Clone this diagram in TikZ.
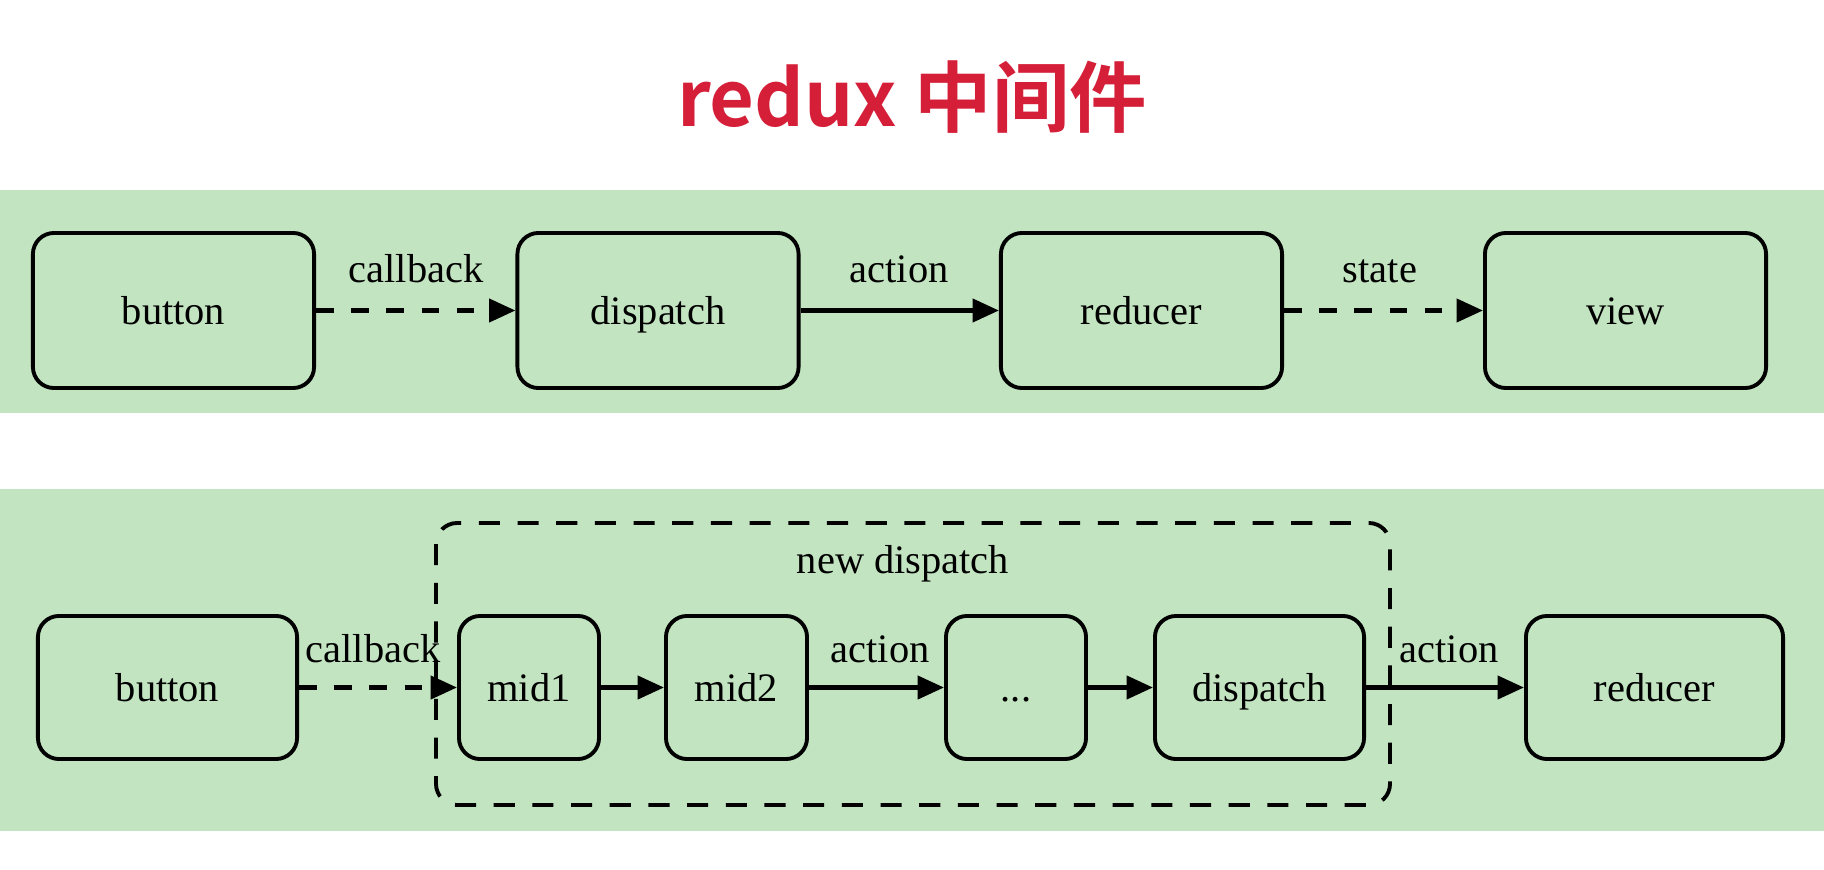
\documentclass[tikz,border=0pt]{standalone}
\usepackage{fontspec}
\setmainfont{Liberation Serif}
\newfontfamily\titlefont{Noto Sans CJK SC}[BoldFont={Noto Sans CJK SC Bold}]
\usetikzlibrary{arrows.meta}
\definecolor{bandgreen}{RGB}{194,228,192}
\definecolor{titlered}{RGB}{213,30,56}

\begin{document}
\begin{tikzpicture}[x=0.01cm,y=-0.01cm,
    blk/.style={draw,line width=1.1pt,rounded corners=6pt,
      text height=0.9em,text depth=0.12em,
      font=\fontsize{11.5}{12}\selectfont},
    lbl/.style={text height=0.9em,text depth=0.12em,
      font=\fontsize{11.5}{12}\selectfont},
    flow/.style={line width=1.3pt,-{Triangle[length=7.5pt,width=6.5pt]}},
    cb/.style={flow,dash pattern=on 5pt off 5pt}]
  \useasboundingbox[fill=white] (0,0) rectangle (1824,870);
  \fill[bandgreen] (0,190) rectangle (1824,413);
  \fill[bandgreen] (0,489) rectangle (1824,831);
  \node[text=titlered,font=\titlefont\bfseries\fontsize{22}{24}\selectfont]
    (title) at (912,97) {redux 中间件};
  % without middleware
  \node[blk,minimum width=2.81cm,minimum height=1.55cm] (btn) at (173.5,310.5) {button};
  \node[blk,minimum width=2.81cm,minimum height=1.55cm] (disp) at (658,310.5) {dispatch};
  \node[blk,minimum width=2.81cm,minimum height=1.55cm] (red) at (1141.5,310.5) {reducer};
  \node[blk,minimum width=2.81cm,minimum height=1.55cm] (view) at (1625.5,310.5) {view};
  \draw[cb] (btn) -- (disp);
  \draw[flow] (disp) -- (red);
  \draw[cb] (red) -- (view);
  \node[lbl] (cbtop) at (416,269) {callback};
  \node[lbl] (acttop) at (899,269) {action};
  \node[lbl] (state) at (1380,269) {state};
  % with middleware
  \draw[line width=1.1pt,dash pattern=on 6pt off 5pt,rounded corners=6pt]
    (436,523) rectangle (1390,805);
  \node[lbl] (newdisp) at (903,560) {new dispatch};
  \node[blk,minimum width=2.59cm,minimum height=1.43cm] (btnb) at (167.5,687.5) {button};
  \node[blk,minimum width=1.40cm,minimum height=1.43cm] (mida) at (529,687.5) {mid1};
  \node[blk,minimum width=1.41cm,minimum height=1.43cm] (midb) at (736.5,687.5) {mid2};
  \node[blk,minimum width=1.40cm,minimum height=1.43cm] (dots) at (1016,687.5) {...};
  \node[blk,minimum width=2.09cm,minimum height=1.43cm] (dispb) at (1259.5,687.5) {dispatch};
  \node[blk,minimum width=2.57cm,minimum height=1.43cm] (redb) at (1654.5,687.5) {reducer};
  \draw[cb] (btnb) -- (mida);
  \draw[flow] (mida) -- (midb);
  \draw[flow] (midb) -- (dots);
  \draw[flow] (dots) -- (dispb);
  \draw[flow] (dispb) -- (redb);
  \node[lbl] (cbbot) at (373,649) {callback};
  \node[lbl] (actmid) at (880,649) {action};
  \node[lbl] (actend) at (1449,649) {action};
\end{tikzpicture}
\end{document}
